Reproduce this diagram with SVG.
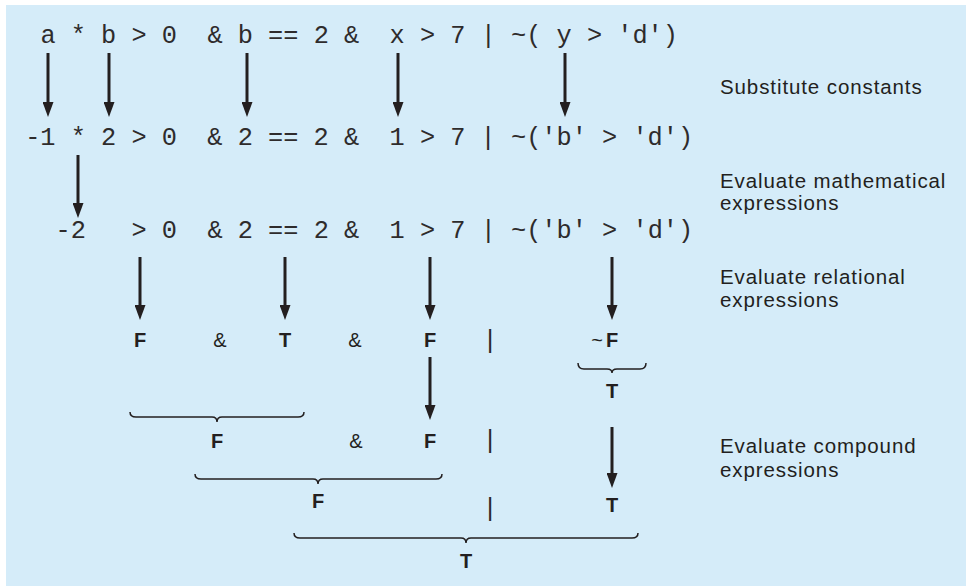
<svg xmlns="http://www.w3.org/2000/svg" width="970" height="586" viewBox="0 0 970 586">
<style>
.code{font-family:"Liberation Mono","Courier New",monospace;font-size:25.3px;fill:#2e2b2c;}
.b{font-family:"Liberation Sans",Arial,sans-serif;font-weight:bold;font-size:20px;fill:#231f20;text-anchor:middle;}
.op{font-family:"Liberation Sans",Arial,sans-serif;font-size:20px;fill:#231f20;text-anchor:middle;}
.lab{font-family:"Liberation Sans",Arial,sans-serif;font-size:20.5px;letter-spacing:0.9px;fill:#231f20;}
.arr{stroke:#231f20;stroke-width:3;fill:none;marker-end:url(#ah);}
.brace{stroke:#231f20;stroke-width:1.5;fill:none;}
</style>
<defs>
<marker id="ah" markerUnits="userSpaceOnUse" markerWidth="16" markerHeight="11" viewBox="0 0 16 11" refX="5" refY="5.5" orient="auto">
<path d="M0,0 L15,5.5 L0,11 z" fill="#231f20"/>
</marker>
</defs>
<rect x="6" y="5" width="960" height="581" fill="#d5ecf9"/>

<g id="row1"><text class="code" x="40.4" y="43" xml:space="preserve">a * b &gt; 0  &amp; b == 2 &amp;  x &gt; 7 | ~( y &gt; 'd')</text></g>
<g id="row2"><text class="code" x="25.2" y="145" xml:space="preserve">-1 * 2 &gt; 0  &amp; 2 == 2 &amp;  1 &gt; 7 | ~('b' &gt; 'd')</text></g>
<g id="row3"><text class="code" x="55.6" y="238" xml:space="preserve">-2   &gt; 0  &amp; 2 == 2 &amp;  1 &gt; 7 | ~('b' &gt; 'd')</text></g>

<g id="row4">
<text class="b" x="140" y="347">F</text>
<text class="op" x="220" y="347">&amp;</text>
<text class="b" x="285" y="347">T</text>
<text class="op" x="355" y="347">&amp;</text>
<text class="b" x="430" y="347">F</text>
<text class="code" x="490" y="348" text-anchor="middle">|</text>
<text class="op" x="597" y="347">~</text>
<text class="b" x="612" y="347">F</text>
</g>
<g id="notF"><text class="b" x="612" y="398">T</text></g>
<g id="row5">
<text class="b" x="217" y="448">F</text>
<text class="op" x="356" y="448">&amp;</text>
<text class="b" x="430" y="448">F</text>
<text class="code" x="490" y="448" text-anchor="middle">|</text>
</g>
<g id="row6">
<text class="b" x="318" y="508">F</text>
<text class="code" x="490" y="516" text-anchor="middle">|</text>
<text class="b" x="612" y="512">T</text>
</g>
<g id="row7"><text class="b" x="466" y="568">T</text></g>

<g id="labels">
<text class="lab" x="720" y="94">Substitute constants</text>
<text class="lab" x="720" y="188">Evaluate mathematical</text>
<text class="lab" x="720" y="210">expressions</text>
<text class="lab" x="720" y="284">Evaluate relational</text>
<text class="lab" x="720" y="307">expressions</text>
<text class="lab" x="720" y="453">Evaluate compound</text>
<text class="lab" x="720" y="477">expressions</text>
</g>

<g id="connectors">
<line class="arr" x1="48" y1="53" x2="48" y2="107"/>
<line class="arr" x1="109" y1="53" x2="109" y2="107"/>
<line class="arr" x1="247" y1="53" x2="247" y2="107"/>
<line class="arr" x1="398" y1="53" x2="398" y2="107"/>
<line class="arr" x1="565" y1="53" x2="565" y2="107"/>
<line class="arr" x1="78" y1="155" x2="78" y2="208"/>
<line class="arr" x1="140" y1="257" x2="140" y2="310"/>
<line class="arr" x1="285" y1="257" x2="285" y2="310"/>
<line class="arr" x1="430" y1="257" x2="430" y2="310"/>
<line class="arr" x1="612" y1="257" x2="612" y2="310"/>
<line class="arr" x1="430" y1="357" x2="430" y2="410"/>
<line class="arr" x1="612" y1="427" x2="612" y2="478"/>
<path class="brace" d="M578,363 Q578,369 584,369 L607,369 Q612,369 612,373 Q612,369 617,369 L640,369 Q646,369 646,363"/>
<path class="brace" d="M130,412 Q130,417 136,417 L212,417 Q217,417 217,422 Q217,417 222,417 L298,417 Q304,417 304,412"/>
<path class="brace" d="M195,474 Q195,479 201,479 L313,479 Q318,479 318,484 Q318,479 323,479 L436,479 Q442,479 442,474"/>
<path class="brace" d="M294,533 Q294,538 300,538 L461,538 Q466,538 466,543 Q466,538 471,538 L632,538 Q638,538 638,533"/>
</g>
</svg>
